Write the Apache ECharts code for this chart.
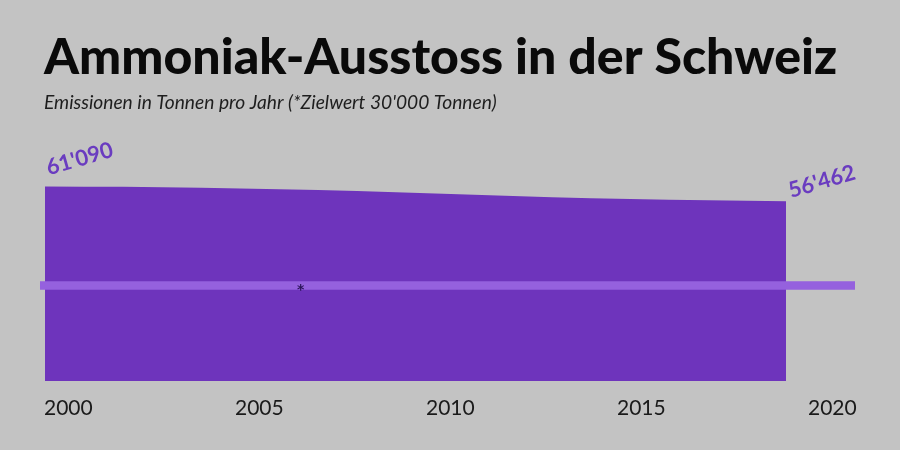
<!DOCTYPE html>
<html>
<head>
<meta charset="utf-8">
<script src="https://cdn.jsdelivr.net/npm/echarts@6/dist/echarts.min.js"></script>
<style>
html,body{margin:0;padding:0;background:#c3c3c3;}
#c{width:900px;height:450px;}
</style>
</head>
<body>
<div id="c"></div>
<script>
// Data
const years = [2000,2001,2002,2003,2004,2005,2006,2007,2008,2009,2010,2011,2012,2013,2014,2015,2016,2017,2018,2019];
const emissions = [61090,61070,61030,60920,60750,60530,60280,60000,59680,59310,58930,58540,58130,57750,57450,57210,56980,56780,56610,56462];
const targetValue = 30000;
const tickYears = [2000,2005,2010,2015,2020];
const titleText = 'Ammoniak-Ausstoss in der Schweiz';
const subtitleText = "Emissionen in Tonnen pro Jahr (*Zielwert 30'000 Tonnen)";

const fmt = v => String(Math.round(v)).replace(/\B(?=(\d{3})+(?!\d))/g, "'");
const purple = '#6e34bc';
const labelPurple = '#6a3cc0';
const linePurple = '#9561de';

const areaData = years.map((y, i) => {
  const item = { value: [y, emissions[i]] };
  if (i === 0) {
    item.label = { show: true, offset: [41, -17] };
  } else if (i === years.length - 1) {
    item.label = { show: true, offset: [40, -9] };
  }
  return item;
});

const yMin = 0, yMax = 62000;
const gridTop = 183.7, gridBottom = 69;

const chart = echarts.init(document.getElementById('c'), null, { renderer: 'canvas' });
chart.setOption({
  backgroundColor: '#c3c3c3',
  animation: false,
  title: {
    text: titleText,
    subtext: subtitleText,
    left: 39,
    top: 28,
    itemGap: 10,
    textStyle: { fontFamily: 'Lato', fontWeight: 900, fontSize: 50, color: '#0a0a0a' },
    subtextStyle: { fontFamily: 'Lato', fontStyle: 'italic', fontSize: 19.2, color: '#1e1e1e' }
  },
  grid: [
    { left: 45, width: 741, top: gridTop, bottom: gridBottom },
    { left: 40, width: 815, top: gridTop, bottom: gridBottom },
    { left: 44, width: 764, top: gridTop, bottom: gridBottom }
  ],
  xAxis: [
    { gridIndex: 0, type: 'value', min: years[0], max: years[years.length - 1], show: false },
    { gridIndex: 1, type: 'value', min: 0, max: 1, show: false },
    { gridIndex: 2, type: 'value', min: tickYears[0], max: tickYears[tickYears.length - 1], interval: 5,
      axisLine: { show: false }, axisTick: { show: false }, splitLine: { show: false },
      axisLabel: { align: 'left', margin: 17, fontFamily: 'Lato', fontSize: 21, color: '#1a1a1a', formatter: v => String(v) } }
  ],
  yAxis: [
    { gridIndex: 0, type: 'value', min: yMin, max: yMax, show: false },
    { gridIndex: 1, type: 'value', min: yMin, max: yMax, show: false },
    { gridIndex: 2, type: 'value', min: yMin, max: yMax, show: false }
  ],
  series: [
    {
      type: 'line', xAxisIndex: 0, yAxisIndex: 0,
      data: areaData,
      showSymbol: true, symbolSize: 0, symbol: 'circle',
      lineStyle: { width: 0 },
      itemStyle: { color: purple },
      areaStyle: { color: purple, opacity: 1 },
      label: {
        show: false, position: 'inside', rotate: 16,
        fontFamily: 'Lato', fontWeight: 'bold', fontSize: 22, color: labelPurple,
        formatter: p => fmt(p.value[1])
      },
      silent: true
    },
    {
      type: 'line', xAxisIndex: 1, yAxisIndex: 1,
      data: [[0, targetValue], [1, targetValue]],
      showSymbol: false,
      lineStyle: { width: 8.5, color: linePurple, cap: 'butt' },
      silent: true
    },
    { type: 'line', xAxisIndex: 2, yAxisIndex: 2, data: [], silent: true }
  ],
  graphic: [
    { type: 'text', left: 297, top: 283, z: 100, style: { text: '*', fontFamily: 'DejaVu Sans', fontSize: 14, fontWeight: 'bold', fill: '#2a1458' }, silent: true }
  ]
});
</script>
</body>
</html>
